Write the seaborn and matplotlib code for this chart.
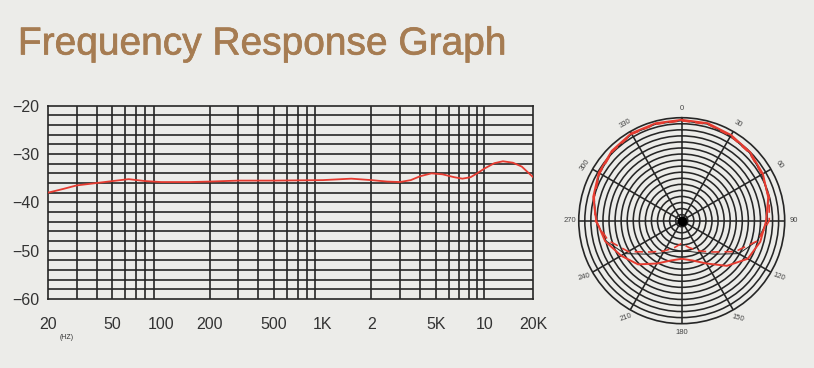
import numpy as np
import pandas as pd
import matplotlib
matplotlib.use("Agg")
import matplotlib.pyplot as plt
import matplotlib.patheffects as pe
import seaborn as sns

# frequency response (Hz, dB)
freq = [20, 25, 30, 40, 50, 63, 80, 100, 150, 200, 300, 500, 1000, 1500, 2000,
        2500, 3000, 3500, 4000, 4700, 5500, 6500, 7300, 8200, 9000, 10000,
        11500, 13000, 15000, 17000, 20000]
level = [-38.0, -37.2, -36.5, -36.0, -35.6, -35.2, -35.6, -35.8, -35.8, -35.7,
         -35.5, -35.5, -35.4, -35.1, -35.4, -35.7, -35.8, -35.4, -34.6, -34.0,
         -34.2, -34.8, -35.1, -34.8, -34.0, -33.0, -31.9, -31.5, -31.8, -32.6,
         -34.8]

x_ticks = [20, 50, 100, 200, 500, 1000, 2000, 5000, 10000, 20000]
x_labels = ["20", "50", "100", "200", "500", "1K", "2", "5K", "10", "20K"]
y_ticks = [-20, -30, -40, -50, -60]

# polar pattern (degrees, relative radius)
angle = [0, 15, 30, 45, 60, 75, 90, 105, 120, 135, 150, 165, 180,
         195, 210, 225, 240, 255, 270, 285, 300, 315, 330, 345, 360]
pattern_solid = [0.98, 0.98, 0.96, 0.94, 0.91, 0.87, 0.82, 0.79, 0.74, 0.62,
                 0.48, 0.40, 0.37, 0.40, 0.48, 0.60, 0.68, 0.77, 0.83, 0.89,
                 0.93, 0.96, 0.98, 0.98, 0.98]
pattern_dash = [0.97, 0.97, 0.95, 0.93, 0.90, 0.88, 0.85, 0.76, 0.60, 0.43,
                0.34, 0.27, 0.22, 0.27, 0.34, 0.43, 0.60, 0.74, 0.84, 0.88,
                0.92, 0.95, 0.97, 0.97, 0.97]
pattern_black = [0.97, 0.97, 0.95, 0.93, 0.90, 0.87, 0.83, 0.76, 0.64, 0.46,
                 0.36, 0.31, 0.30, 0.31, 0.36, 0.46, 0.64, 0.76, 0.83, 0.88,
                 0.92, 0.95, 0.97, 0.97, 0.97]
polar_labels = [0, 30, 60, 90, 120, 150, 180, 210, 240, 270, 300, 330]
label_rot = [0, -30, -55, 0, -20, -15, 0, 20, 15, 0, 55, 30]

bg = "#ecece9"
grid_c = "#262626"
red = "#e63b30"

sns.set_style("white")
plt.rcParams["font.family"] = ["Liberation Sans", "DejaVu Sans"]

fig = plt.figure(figsize=(8.14, 3.68), dpi=100)
fig.patch.set_facecolor(bg)

fig.text(0.022, 0.852, "Frequency Response Graph", fontsize=28,
         color="#a67c52", ha="left", va="baseline",
         path_effects=[pe.withStroke(linewidth=0.5, foreground="#a67c52")])

# --- frequency response ---
ax = fig.add_axes([0.059, 0.1875, 0.596, 0.5253])
ax.set_facecolor(bg)
df = pd.DataFrame({"freq": freq, "level": level})
sns.lineplot(data=df, x="freq", y="level", ax=ax, color=red, lw=1.3, zorder=5)
ax.set_xscale("log")
ax.set_xlim(20, 20000)
ax.set_ylim(-60, -20)

vlines = [d * m for d in (10, 100, 1000) for m in range(2, 10)] + \
         [10000, 20000]
for v in vlines:
    if 20 < v < 20000:
        ax.axvline(v, color=grid_c, lw=1.2, zorder=1)
for h in range(-58, -20, 2):
    ax.axhline(h, color=grid_c, lw=1.2, zorder=1)
for s in ax.spines.values():
    s.set_color(grid_c)
    s.set_linewidth(1.2)

ax.set_xticks(x_ticks)
ax.set_xticklabels(x_labels)
ax.xaxis.set_minor_locator(matplotlib.ticker.NullLocator())
ax.set_yticks(y_ticks)
ax.set_yticklabels(["\u2212" + str(abs(t)) for t in y_ticks])
ax.tick_params(axis="both", length=0, labelsize=11.5, colors="#333333")
ax.tick_params(axis="x", pad=13)
ax.tick_params(axis="y", pad=6)
ax.set_xlabel("")
ax.set_ylabel("")
ax.text(0.039, -0.197, "(HZ)", transform=ax.transAxes,
        fontsize=5, color="#333333", ha="center", va="center")

# --- polar pattern ---
pax = fig.add_axes([0.711, 0.1204, 0.253, 0.5598], projection="polar")
pax.set_facecolor(bg)
pax.set_theta_zero_location("N")
pax.set_theta_direction(-1)
pax.set_ylim(0, 1)
pax.set_rticks(np.arange(1, 17) / 17)
pax.set_yticklabels([])
pax.set_thetagrids(range(0, 360, 30), labels=[])
pax.grid(True, color=grid_c, lw=1.15)
pax.spines["polar"].set_color(grid_c)
pax.spines["polar"].set_linewidth(1.2)

theta = np.deg2rad(angle)
pdf = pd.DataFrame({"theta": theta, "solid": pattern_solid,
                    "dash": pattern_dash, "black": pattern_black})
sns.lineplot(data=pdf, x="theta", y="black", ax=pax, sort=False,
             color="#222222", lw=0.7, zorder=4)
sns.lineplot(data=pdf, x="theta", y="dash", ax=pax, sort=False,
             color=red, lw=1.2, ls=(0, (5, 3)), zorder=5)
sns.lineplot(data=pdf, x="theta", y="solid", ax=pax, sort=False,
             color=red, lw=1.4, zorder=6)
pax.plot([0], [0], "o", color="black", ms=6, zorder=7)
pax.set_xlabel("")
pax.set_ylabel("")

for a, rot in zip(polar_labels, label_rot):
    pax.text(np.deg2rad(a), 1.09, str(a), fontsize=5.5, color="#444444",
             rotation=rot, ha="center", va="center")

fig.savefig("out.png", dpi=100, facecolor=bg)
